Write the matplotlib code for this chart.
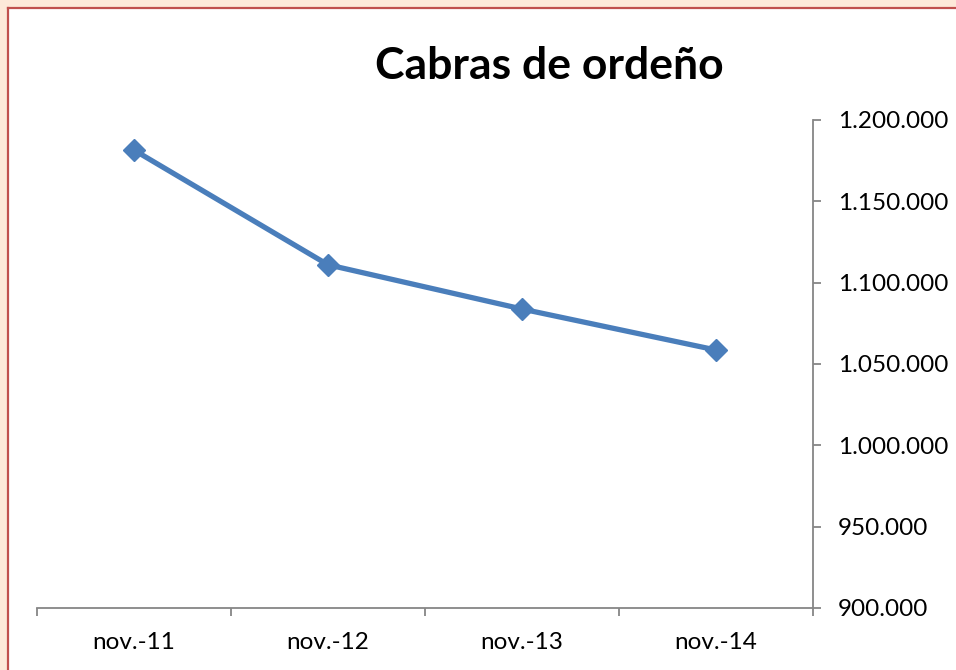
import numpy as np
import matplotlib.pyplot as plt
from matplotlib.patches import Rectangle
from matplotlib.ticker import FuncFormatter, FixedLocator

# data
categories = ['nov.-11', 'nov.-12', 'nov.-13', 'nov.-14']
cabras = [1181500, 1111000, 1083800, 1058600]
y_ticks = [900000, 950000, 1000000, 1050000, 1100000, 1150000, 1200000]

W, H = 956, 670
fig = plt.figure(figsize=(W/100, H/100), dpi=100)
fig.patch.set_facecolor('#FDE9D9')

# white chart area; red frame drawn as two plain lines (left, top)
x0, y0 = 8/W, 1 - 8/H
fig.add_artist(Rectangle((x0, 0), 1 - x0, y0, transform=fig.transFigure,
                         facecolor='white', edgecolor='none', zorder=-5))
fig.add_artist(plt.Line2D([x0, x0], [0, y0], transform=fig.transFigure,
                          color='#C0504D', linewidth=1.6, zorder=-4))
fig.add_artist(plt.Line2D([x0, 1.0], [y0, y0], transform=fig.transFigure,
                          color='#C0504D', linewidth=1.6, zorder=-4))

ax = fig.add_axes([37/W, 1 - 608/H, (813 - 37)/W, (608 - 120)/H])
ax.set_zorder(2)
ax.set_facecolor('none')

x = np.arange(1, len(categories) + 1)
ax.plot(x, cabras, color='#4A7EBB', linewidth=3.8, marker='D', markersize=11,
        markerfacecolor='#4A7EBB', markeredgecolor='#4A7EBB', zorder=3)

ax.set_xlim(0.5, len(categories) + 0.5)
ax.set_ylim(900000, 1200000)

for s in ['left', 'top']:
    ax.spines[s].set_visible(False)
for s in ['right', 'bottom']:
    ax.spines[s].set_color('#868686')
    ax.spines[s].set_linewidth(1.3)

ax.yaxis.tick_right()
ax.set_yticks(y_ticks)
ax.yaxis.set_major_formatter(FuncFormatter(lambda v, p: f'{v:,.0f}'.replace(',', '.')))
ax.tick_params(axis='y', direction='out', length=6, width=1.3, color='#868686',
               labelsize=17.5, pad=12, labelcolor='black')

ax.set_xticks(x)
ax.set_xticklabels(categories)
ax.xaxis.set_minor_locator(FixedLocator(np.arange(0.5, len(categories) + 1, 1)))
ax.tick_params(axis='x', which='major', length=0, labelsize=17.5, pad=17, labelcolor='black')
ax.tick_params(axis='x', which='minor', direction='out', length=6, width=1.3, color='#868686')

for lab in ax.get_xticklabels() + ax.get_yticklabels():
    lab.set_fontfamily('Lato')

fig.text(549/W, 1 - 66/H, 'Cabras de ordeño', fontsize=32, fontweight='bold',
         fontfamily='Lato', ha='center', va='center')

plt.savefig('out.png', dpi=100, facecolor=fig.get_facecolor())
